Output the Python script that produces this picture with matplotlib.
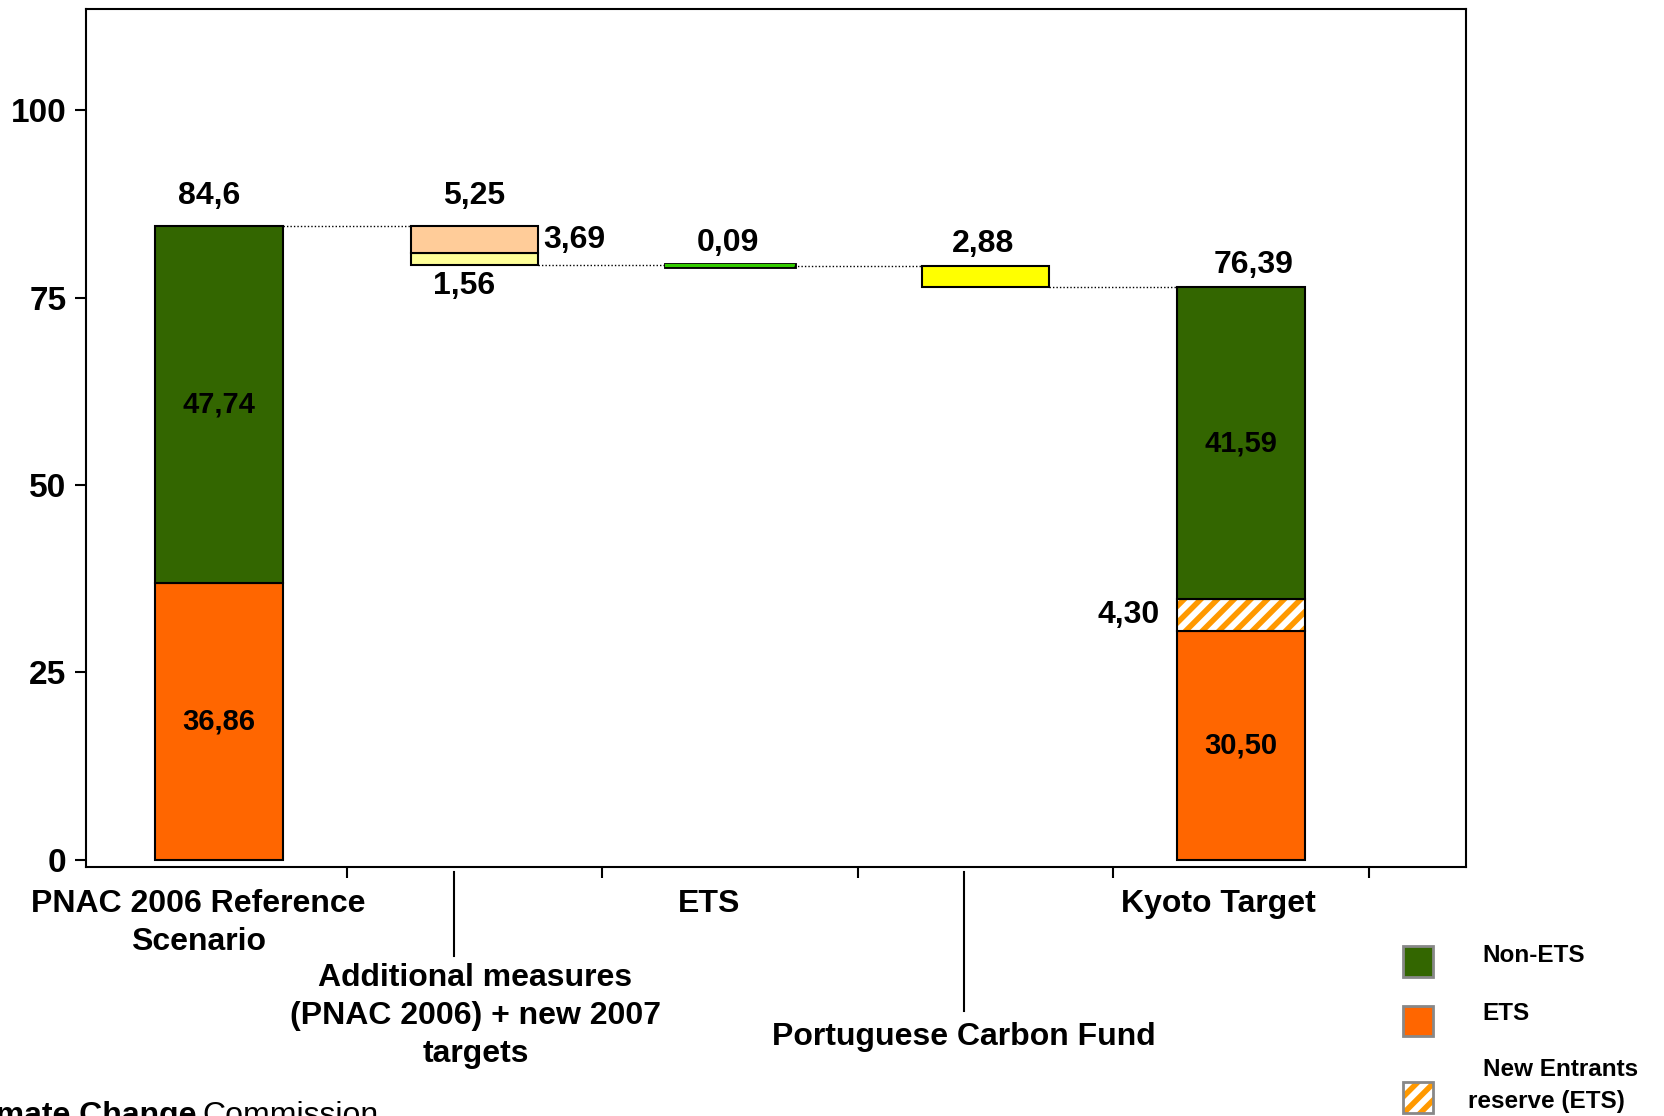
import matplotlib
matplotlib.use("Agg")
import matplotlib.pyplot as plt
from matplotlib.patches import Rectangle
from matplotlib.lines import Line2D

plt.rcParams['font.family'] = ['Liberation Sans', 'DejaVu Sans']
plt.rcParams['font.weight'] = 'bold'
plt.rcParams['hatch.linewidth'] = 4

# data
categories = ['PNAC 2006 Reference\nScenario',
              'Additional measures\n(PNAC 2006) + new 2007\ntargets',
              'ETS', 'Portuguese Carbon Fund', 'Kyoto Target']
ref_ets = 36.86
ref_non_ets = 47.74
ref_total = 84.6
add_measures = [1.56, 3.69]   # yellow (bottom), peach (top)
add_total = 5.25
ets_cut = 0.09
fund_cut = 2.88
kyoto_ets = 30.50
kyoto_new_entrants = 4.30
kyoto_non_ets = 41.59
kyoto_total = 76.39

GREEN = '#336600'
ORANGE = '#FF6600'
PEACH = '#FFCC99'
LYELLOW = '#FFFF99'
YELLOW = '#FFFF00'
LGREEN = '#33CC00'

def fx(x):
    return x / 1568.0

def fy(y):
    return 1 - y / 1052.0

def lab(v, nd=2):
    return f"{v:.{nd}f}".replace('.', ',')

fig = plt.figure(figsize=(16.64, 11.16), dpi=100)
ax = fig.add_axes([86 / 1664, 1 - 867 / 1116, (1466 - 86) / 1664, (867 - 8.5) / 1116])
ax.set_xlim(-0.52, 4.88)
ax.set_ylim(-1.0, 113.6)

w = 0.5
ekw = dict(edgecolor='black', linewidth=1.5)

# reference scenario
ax.bar(0, ref_ets, w, color=ORANGE, **ekw)
ax.bar(0, ref_non_ets, w, bottom=ref_ets, color=GREEN, **ekw)

# additional measures
b2 = ref_total - add_total
ax.bar(1, add_measures[0], w, bottom=b2, color=LYELLOW, **ekw)
ax.bar(1, add_measures[1], w, bottom=b2 + add_measures[0], color=PEACH, **ekw)

# ETS (very thin, drawn with a rim so it stays visible)
b3 = b2 - ets_cut
ax.bar(2, ets_cut, w, bottom=b3, color=LGREEN, edgecolor='black', linewidth=3.5)
ax.bar(2, ets_cut, w, bottom=b3, color=LGREEN, edgecolor=LGREEN, linewidth=1.5)

# carbon fund
b4 = b3 - fund_cut
ax.bar(3, fund_cut, w, bottom=b4, color=YELLOW, **ekw)

# kyoto target
ax.bar(4, kyoto_ets, w, color=ORANGE, **ekw)
ax.bar(4, kyoto_new_entrants, w, bottom=kyoto_ets, color='white',
       edgecolor='#FF9900', hatch='//', linewidth=0)
ax.bar(4, kyoto_new_entrants, w, bottom=kyoto_ets, color='none', **ekw)
ax.bar(4, kyoto_non_ets, w, bottom=kyoto_ets + kyoto_new_entrants, color=GREEN, **ekw)

# connectors
dk = dict(color='black', linestyle=(0, (1, 1.5)), linewidth=1)
ax.plot([0 + w / 2, 1 - w / 2], [ref_total, ref_total], **dk)
ax.plot([1 + w / 2, 2 - w / 2], [b2, b2], **dk)
ax.plot([2 + w / 2, 3 - w / 2], [b3, b3], **dk)
ax.plot([3 + w / 2, 4 - w / 2], [b4, b4], **dk)

# value labels
fs = 23
ifs = 21
ax.text(-0.04, ref_total + 2.0, lab(ref_total, 1), ha='center', va='bottom', fontsize=fs)
ax.text(0, ref_ets + ref_non_ets / 2, lab(ref_non_ets), ha='center', va='center', fontsize=ifs)
ax.text(0, ref_ets / 2, lab(ref_ets), ha='center', va='center', fontsize=ifs)
ax.text(1.0, ref_total + 2.0, lab(add_total), ha='center', va='bottom', fontsize=fs)
ax.text(1 + w / 2 + 0.02, b2 + add_measures[0] + add_measures[1] / 2, lab(add_measures[1]),
        ha='left', va='center', fontsize=fs)
ax.text(0.96, b2 - 0.8, lab(add_measures[0]), ha='center', va='top', fontsize=fs)
ax.text(1.99, b2 + 0.9, lab(ets_cut), ha='center', va='bottom', fontsize=fs)
ax.text(2.99, b3 + 0.9, lab(fund_cut), ha='center', va='bottom', fontsize=fs)
ax.text(4.05, kyoto_total + 1.0, lab(kyoto_total), ha='center', va='bottom', fontsize=fs)
ax.text(4, kyoto_ets + kyoto_new_entrants + kyoto_non_ets / 2, lab(kyoto_non_ets),
        ha='center', va='center', fontsize=ifs)
ax.text(4, kyoto_ets / 2, lab(kyoto_ets), ha='center', va='center', fontsize=ifs)
ax.text(4 - w / 2 - 0.07, kyoto_ets + kyoto_new_entrants / 2, lab(kyoto_new_entrants),
        ha='right', va='center', fontsize=fs)

# axes styling
ax.set_yticks([0, 25, 50, 75, 100])
ax.set_xticks([0.5, 1.5, 2.5, 3.5, 4.5])
ax.set_xticklabels([])
ax.tick_params(axis='both', direction='out', length=8, width=1.5)
ax.tick_params(axis='y', labelsize=24, pad=6)
for s in ax.spines.values():
    s.set_linewidth(1.5)

# category labels
cfs = 23
fig.text(fx(187), fy(870), categories[0], ha='center', va='center', fontsize=cfs, linespacing=1.35)
fig.text(fx(448), fy(958), categories[1], ha='center', va='center', fontsize=cfs, linespacing=1.35)
fig.text(fx(668), fy(852), categories[2], ha='center', va='center', fontsize=cfs)
fig.text(fx(908), fy(978), categories[3], ha='center', va='center', fontsize=cfs)
fig.text(fx(1148), fy(852), categories[4], ha='center', va='center', fontsize=cfs)
fig.add_artist(Line2D([fx(428), fx(428)], [fy(822), fy(901)], color='black', linewidth=1.5))
fig.add_artist(Line2D([fx(908), fx(908)], [fy(822), fy(953)], color='black', linewidth=1.5))

# legend
lfs = 17.5
legend_boxes = [(GREEN, None, 892), (ORANGE, None, 948), ('white', '//', 1020)]
for col, hatch, ytop in legend_boxes:
    r = Rectangle((fx(1322), fy(ytop + 29)), fx(28), 29 / 1052, transform=fig.transFigure,
                  facecolor=col, edgecolor='#FF9900' if hatch else '#888888',
                  hatch=hatch, linewidth=0 if hatch else 2)
    fig.add_artist(r)
    if hatch:
        fig.add_artist(Rectangle((fx(1322), fy(ytop + 29)), fx(28), 29 / 1052,
                                 transform=fig.transFigure, facecolor='none',
                                 edgecolor='#888888', linewidth=2))
fig.text(fx(1397), fy(901), 'Non-ETS', ha='left', va='center', fontsize=lfs)
fig.text(fx(1397), fy(955), 'ETS', ha='left', va='center', fontsize=lfs)
fig.text(fx(1397), fy(1008), 'New Entrants', ha='left', va='center', fontsize=lfs)
fig.text(fx(1383), fy(1038), 'reserve (ETS)', ha='left', va='center', fontsize=lfs)

# source footer (cut at edge, as in the original)
fig.text(-0.027, -0.007, 'Climate Change', ha='left', va='baseline', fontsize=23, fontweight='bold')
fig.text(fx(191), -0.007, 'Commission', ha='left', va='baseline', fontsize=23, fontweight='normal')

fig.savefig('out.png', dpi=100)
